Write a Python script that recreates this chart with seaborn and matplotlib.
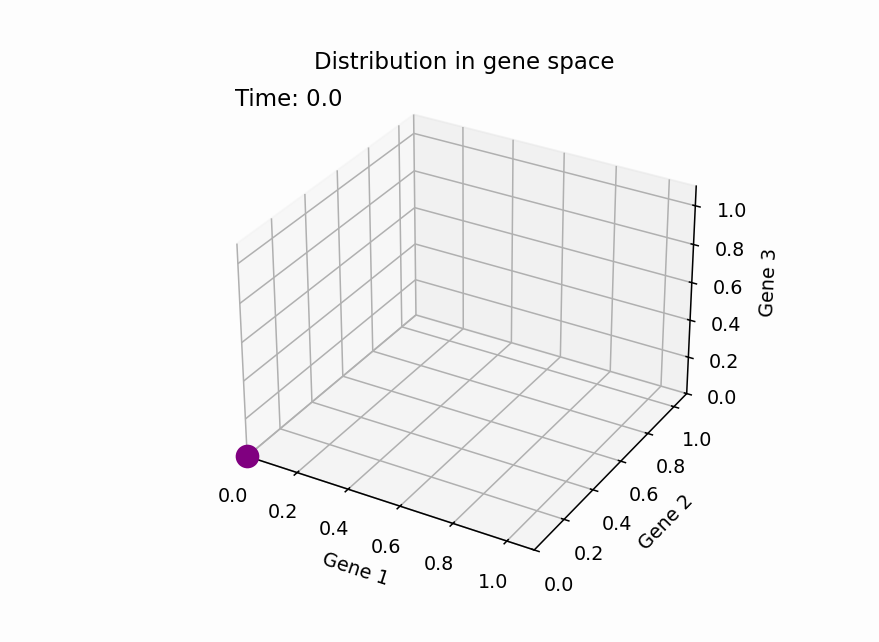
import matplotlib
matplotlib.use("Agg")
import matplotlib.pyplot as plt
import seaborn as sns
import numpy as np

gene1 = [0.0]
gene2 = [0.0]
gene3 = [0.0]
time_value = 0.0
title = "Distribution in gene space"
ticks = [0.0, 0.2, 0.4, 0.6, 0.8, 1.0]

point_color = "purple"

fig = plt.figure(figsize=(6.4, 4.68), dpi=137.35)
fig.patch.set_facecolor("#fdfdfd")
ax = fig.add_axes([0.2385, 0.0917, 0.579, 0.792], projection="3d")
ax.set_box_aspect((4, 4, 2.95))
ax.set_facecolor("#fdfdfd")
ax.scatter(gene1, gene2, gene3, c=point_color, s=130, alpha=1, depthshade=False)
ax.set_xlim(0, 1.1)
ax.set_ylim(0, 1.1)
ax.set_zlim(0, 1.1)
ax.set_xticks(ticks)
ax.set_yticks(ticks)
ax.set_zticks(ticks)
ax.set_xlabel("Gene 1")
ax.set_ylabel("Gene 2")
ax.set_zlabel("Gene 3")
ax.set_title(title, pad=3.2)
ax.text2D(0.05, 0.938, f"Time: {time_value}", transform=ax.transAxes, fontsize=12)
fig.savefig("out.png", dpi=137.35, facecolor=fig.get_facecolor())
